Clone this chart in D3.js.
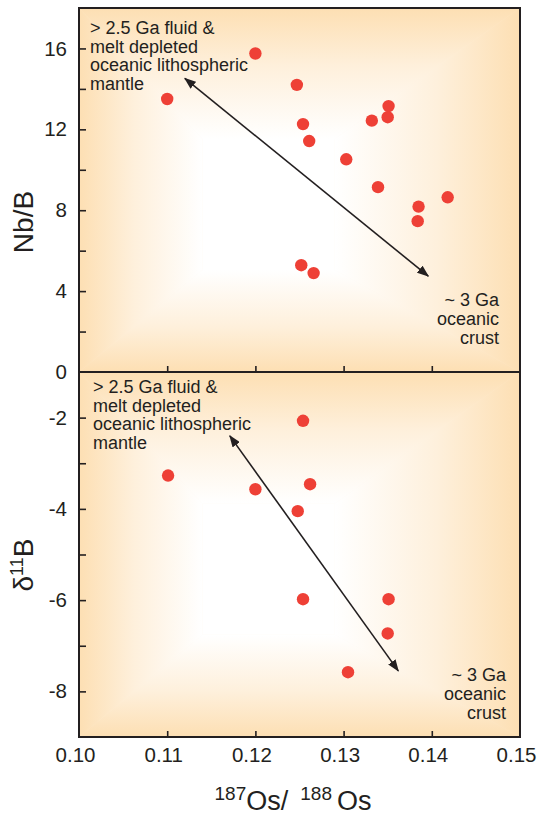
<!DOCTYPE html>
<head>
    <meta charset="utf-8">
    <script src="https://d3js.org/d3.v7.min.js"></script>
    <style>
        body {
            margin: 0;
            background-color: #fff;
        }

        text {
            font-family: "Liberation Sans", Arial, sans-serif;
            fill: #231f20;
        }

        .axis path {
            display: none;
        }

        .axis line {
            stroke: #231f20;
            stroke-width: 1.6px;
        }

        .axis text {
            font-size: 20.5px;
        }

        .frame {
            stroke: #231f20;
            stroke-width: 2px;
        }

        .dot {
            fill: #ee4036;
        }

        .trend {
            stroke: #231f20;
            stroke-width: 1.6px;
        }

        .note {
            font-size: 18px;
        }
    </style>
</head>

<body>
    <script>
        // 187Os/188Os vs Nb/B (upper panel)
        var osTop = [0.1100, 0.1200, 0.1247, 0.1254, 0.1261, 0.1303, 0.1332, 0.1351, 0.1350,
            0.1339, 0.1385, 0.1384, 0.1418, 0.1252, 0.1266];
        var nbB = [13.5, 15.75, 14.2, 12.26, 11.42, 10.52, 12.43, 13.15, 12.6,
            9.14, 8.18, 7.46, 8.64, 5.28, 4.89];

        // 187Os/188Os vs d11B (lower panel)
        var osBottom = [0.1101, 0.1200, 0.1254, 0.1262, 0.1248, 0.1254, 0.1351, 0.1350, 0.1305];
        var d11B = [-3.27, -3.57, -2.07, -3.46, -4.05, -5.98, -5.98, -6.73, -7.58];

        // trend arrows (both ends pointed)
        var arrowTop = [[0.1120, 14.52], [0.1396, 4.74]];
        var arrowBottom = [[0.1171, -2.40], [0.1362, -7.55]];

        var xTicks = [0.10, 0.11, 0.12, 0.13, 0.14, 0.15];
        var nbTicks = [0, 2, 4, 6, 8, 10, 12, 14, 16];
        var nbLabels = [0, 4, 8, 12, 16];
        var d11Ticks = [-8, -7, -6, -5, -4, -3, -2];
        var d11Labels = [-8, -6, -4, -2];

        var mantleNote = ["> 2.5 Ga fluid &", "melt depleted", "oceanic lithospheric", "mantle"];
        var crustNote = ["~ 3 Ga", "oceanic", "crust"];

        var width = 539,
            height = 816;

        var left = 79,
            right = 520,
            top1 = 8,
            mid = 372,
            bottom2 = 737;

        var edgeColor = "#fddfb3",
            halfColor = "#fef0dc";

        var svg = d3.select("body").append("svg")
            .attr("width", width)
            .attr("height", height);

        var x = d3.scaleLinear()
            .domain([0.10, 0.15])
            .range([left, right]);

        var yNb = d3.scaleLinear()
            .domain([0, 18])
            .range([mid, top1]);

        var yB = d3.scaleLinear()
            .domain([-9, -1])
            .range([bottom2, mid]);

        var defs = svg.append("defs");

        defs.append("marker")
            .attr("id", "head")
            .attr("viewBox", "0 0 12 9")
            .attr("markerUnits", "userSpaceOnUse")
            .attr("markerWidth", 12)
            .attr("markerHeight", 9)
            .attr("refX", 11)
            .attr("refY", 4.5)
            .attr("orient", "auto-start-reverse")
            .append("path")
            .attr("d", "M0,0 L12,4.5 L0,9 Z")
            .attr("fill", "#231f20");

        var gradId = 0;

        function ramp(x1, y1, x2, y2) {
            var id = "ramp" + (gradId++);
            var lg = defs.append("linearGradient")
                .attr("id", id)
                .attr("gradientUnits", "userSpaceOnUse")
                .attr("x1", x1).attr("y1", y1)
                .attr("x2", x2).attr("y2", y2);
            lg.append("stop").attr("offset", 0).attr("stop-color", edgeColor);
            lg.append("stop").attr("offset", 0.45).attr("stop-color", halfColor);
            lg.append("stop").attr("offset", 1).attr("stop-color", "#ffffff");
            return "url(#" + id + ")";
        }

        // box shaped glow: white core, fading to peach towards each edge
        function shade(g, topY, botY) {
            var h = botY - topY;
            var il = left + 0.28 * (right - left),
                ir = left + 0.58 * (right - left),
                it = topY + 0.36 * h,
                ib = topY + 0.72 * h;

            g.append("rect")
                .attr("x", left).attr("y", topY)
                .attr("width", right - left).attr("height", h)
                .attr("fill", halfColor);

            var sides = [
                [[left, topY], [right, topY], [ir, it], [il, it], ramp(0, topY, 0, it)],
                [[left, botY], [right, botY], [ir, ib], [il, ib], ramp(0, botY, 0, ib)],
                [[left, topY], [il, it], [il, ib], [left, botY], ramp(left, 0, il, 0)],
                [[right, topY], [ir, it], [ir, ib], [right, botY], ramp(right, 0, ir, 0)]
            ];

            g.selectAll(".side")
                .data(sides)
                .enter().append("polygon")
                .attr("class", "side")
                .attr("points", function(d) { return d.slice(0, 4).join(" "); })
                .attr("fill", function(d) { return d[4]; })
                .attr("stroke", function(d) { return d[4]; })
                .attr("stroke-width", 0.6);

            g.append("rect")
                .attr("x", il).attr("y", it)
                .attr("width", ir - il).attr("height", ib - it)
                .attr("fill", "#ffffff");
        }

        function panel(y, xs, ys, arrow, ticks, labels, topY, botY, noteY, crustY, noteX, crustX) {
            var g = svg.append("g");

            shade(g.append("g"), topY, botY);

            g.append("g")
                .attr("class", "axis")
                .attr("transform", "translate(" + left + ",0)")
                .call(d3.axisLeft(y)
                    .tickValues(ticks)
                    .tickSize(-7)
                    .tickPadding(12)
                    .tickFormat(function(d) {
                        return labels.indexOf(d) >= 0 ? d : "";
                    }));

            g.append("g")
                .attr("class", "axis")
                .attr("transform", "translate(0," + botY + ")")
                .call(d3.axisBottom(x)
                    .tickValues(xTicks.slice(1, -1))
                    .tickSize(-6)
                    .tickFormat(""));

            g.selectAll(".dot")
                .data(xs)
                .enter().append("circle")
                .attr("class", "dot")
                .attr("cx", function(d) { return x(d); })
                .attr("cy", function(d, i) { return y(ys[i]); })
                .attr("r", 6.2);

            g.append("line")
                .attr("class", "trend")
                .attr("x1", x(arrow[0][0]))
                .attr("y1", y(arrow[0][1]))
                .attr("x2", x(arrow[1][0]))
                .attr("y2", y(arrow[1][1]))
                .attr("marker-start", "url(#head)")
                .attr("marker-end", "url(#head)");

            g.append("text")
                .attr("class", "note")
                .selectAll("tspan")
                .data(mantleNote)
                .enter().append("tspan")
                .attr("x", noteX)
                .attr("y", function(d, i) { return noteY + i * 18.5; })
                .text(function(d) { return d; });

            g.append("text")
                .attr("class", "note")
                .attr("text-anchor", "end")
                .selectAll("tspan")
                .data(crustNote)
                .enter().append("tspan")
                .attr("x", crustX)
                .attr("y", function(d, i) { return crustY + i * 19; })
                .text(function(d) { return d; });

            g.append("rect")
                .attr("class", "frame")
                .attr("x", left)
                .attr("y", topY)
                .attr("width", right - left)
                .attr("height", botY - topY)
                .attr("fill", "none");
        }

        panel(yNb, osTop, nbB, arrowTop, nbTicks, nbLabels, top1, mid, 34, 306, 90, 499);
        panel(yB, osBottom, d11B, arrowBottom, d11Ticks, d11Labels, mid, bottom2, 393, 681, 93, 506);

        // shared x labels, sitting a little left of their ticks as in the print
        svg.append("g")
            .attr("class", "axis")
            .attr("transform", "translate(-4," + bottom2 + ")")
            .call(d3.axisBottom(x)
                .tickValues(xTicks)
                .tickSize(0)
                .tickPadding(10)
                .tickFormat(d3.format(".2f")));

        // axis titles
        svg.append("text")
            .attr("transform", "translate(33,222) rotate(-90)")
            .attr("text-anchor", "middle")
            .style("font-size", "28px")
            .text("Nb/B");

        var dt = svg.append("text")
            .attr("transform", "translate(33,565) rotate(-90)")
            .attr("text-anchor", "middle")
            .style("font-size", "28px");
        dt.append("tspan").text("\u03b4");
        dt.append("tspan").attr("dy", -10).style("font-size", "18px").text("11");
        dt.append("tspan").attr("dy", 10).text("B");

        var xt = svg.append("text")
            .attr("x", 293)
            .attr("y", 810)
            .attr("text-anchor", "middle")
            .style("font-size", "27px");
        xt.append("tspan").attr("dy", -10).style("font-size", "19px").text("187");
        xt.append("tspan").attr("dy", 10).text("Os/");
        xt.append("tspan").attr("dy", -10).attr("dx", 12).style("font-size", "19px").text("188");
        xt.append("tspan").attr("dy", 10).attr("dx", 5).text("Os");
    </script>
</body>
